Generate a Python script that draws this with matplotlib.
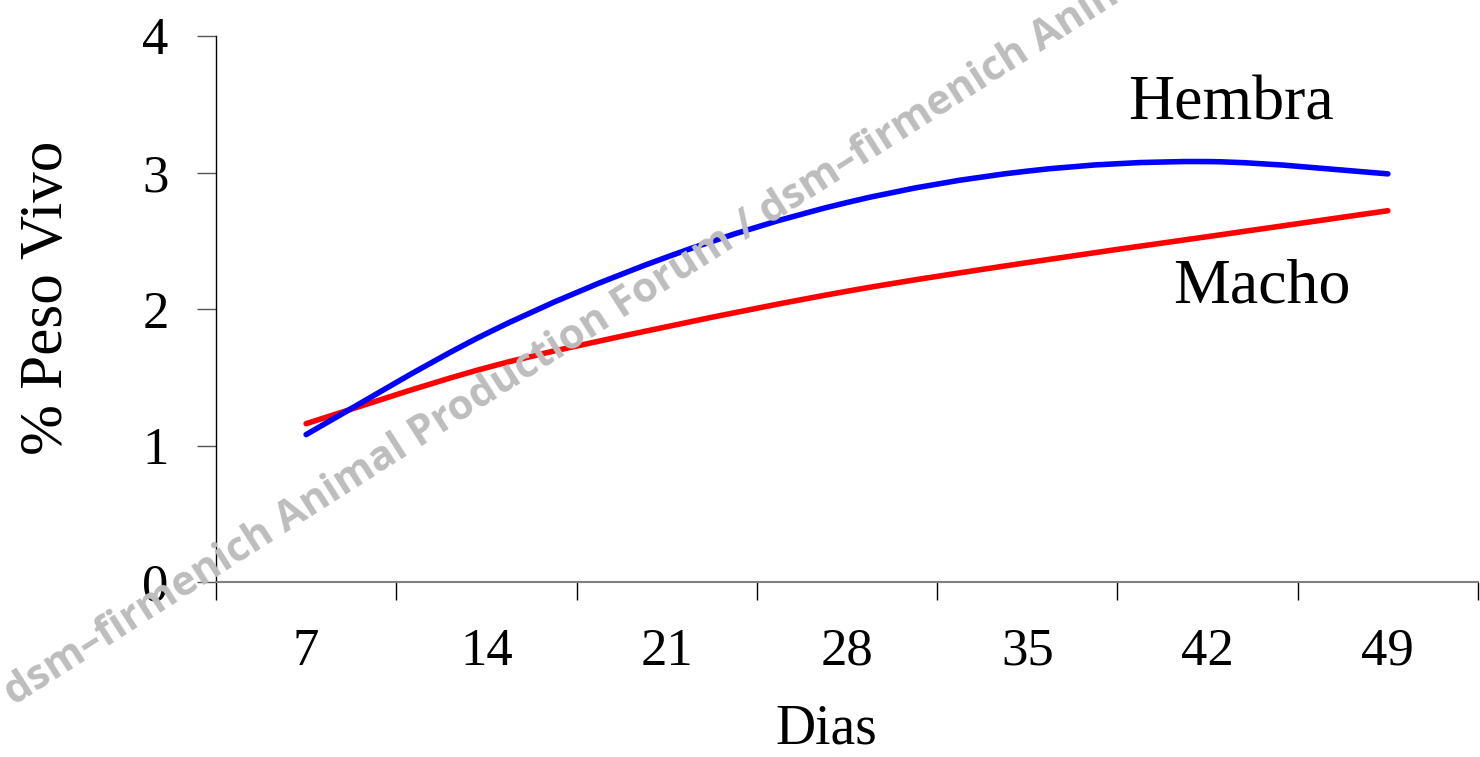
import matplotlib
matplotlib.use("Agg")
import matplotlib.pyplot as plt
import numpy as np
from matplotlib.path import Path
from matplotlib.patches import PathPatch

# Days (category labels) and % body weight per sex
dias = ["7", "14", "21", "28", "35", "42", "49"]
hembra = [1.08, 1.82, 2.38, 2.78, 3.01, 3.08, 2.99]
macho = [1.16, 1.57, 1.87, 2.13, 2.34, 2.53, 2.72]

yticks = [0, 1, 2, 3, 4]

plt.rcParams["font.family"] = ["Liberation Serif", "DejaVu Serif"]

fig = plt.figure(figsize=(14.8, 7.57), dpi=100)
ax = fig.add_axes([216 / 1480, 1 - 582 / 757, 1262 / 1480, 546 / 757])

xc = np.arange(len(dias)) + 0.5


def smooth_path(x, y):
    """Spreadsheet-style smoothed line: cubic Bezier through every point."""
    pts = np.column_stack([x, y])
    n = len(pts)
    verts = [pts[0]]
    codes = [Path.MOVETO]
    for i in range(n - 1):
        p0 = pts[i - 1] if i > 0 else pts[i]
        p1 = pts[i]
        p2 = pts[i + 1]
        p3 = pts[i + 2] if i + 2 < n else pts[i + 1]
        c1 = p1 + (p2 - p0) / 6.0
        c2 = p2 - (p3 - p1) / 6.0
        verts += [c1, c2, p2]
        codes += [Path.CURVE4] * 3
    return Path(verts, codes)


for vals, col in [(macho, "#ff0000"), (hembra, "#0000ff")]:
    patch = PathPatch(smooth_path(xc, np.array(vals)), facecolor="none",
                      edgecolor=col, lw=4.0, capstyle="round",
                      joinstyle="round", zorder=3)
    ax.add_patch(patch)

ax.set_xlim(0, len(dias))
ax.set_ylim(0, 4)

# category boundaries carry the tick marks, labels sit at the centres
ax.set_xticks(np.arange(len(dias) + 1))
ax.set_xticklabels([])
ax.set_xticks(xc, minor=True)
ax.set_xticklabels(dias, minor=True)
ax.tick_params(axis="x", which="major", direction="out", length=13,
               width=1.0, color="black")
ax.tick_params(axis="x", which="minor", length=0, pad=33, labelsize=38)

ax.set_yticks(yticks)
ax.set_yticklabels([str(v) for v in yticks])
ax.tick_params(axis="y", direction="out", length=14, width=1.0,
               pad=20, labelsize=38, color="#555555")

for s in ["top", "right"]:
    ax.spines[s].set_visible(False)
ax.spines["left"].set_color("black")
ax.spines["left"].set_linewidth(1.0)
ax.spines["bottom"].set_color("#808080")
ax.spines["bottom"].set_linewidth(1.5)

fig.text(826 / 1480, 1 - 730 / 757, "Dias", ha="center", va="center",
         fontsize=40)
fig.text(47 / 1480, 1 - 298 / 757, "% Peso Vivo", ha="center", va="center",
         rotation=90, fontsize=44)

ax.text(1231 / 1480, 1 - 105 / 757, "Hembra", transform=fig.transFigure,
        ha="center", va="center", fontsize=46)
ax.text(1262 / 1480, 1 - 287 / 757, "Macho", transform=fig.transFigure,
        ha="center", va="center", fontsize=46)

fig.text(14 / 1480, 1 - 706 / 757,
         "dsm\u2013firmenich Animal Production Forum / dsm\u2013firmenich Animal Production Forum",
         rotation=32.5, rotation_mode="anchor", ha="left", va="baseline",
         fontsize=30, fontweight="bold", color="#bdbdbd",
         family=["Open Sans", "DejaVu Sans"], zorder=10)

fig.savefig("out.png", dpi=100)
